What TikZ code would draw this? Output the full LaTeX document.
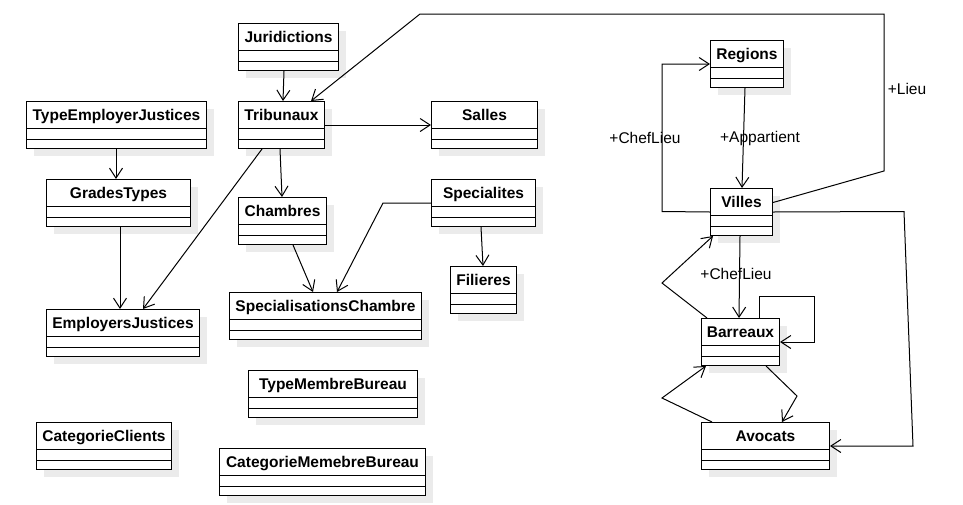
\documentclass[tikz,border=0pt]{standalone}
\usepackage{fontspec}
\setmainfont{Liberation Sans}
\usetikzlibrary{arrows.meta,shadows}

\begin{document}
\begin{tikzpicture}[x=1pt,y=-1pt,
      font=\fontsize{15.5}{18}\selectfont,
      umlclass/.style={draw,anchor=north west,fill=white,line width=1pt,
        minimum height=47pt,inner sep=0pt,text height=19pt,text depth=28pt,
        font=\fontsize{15.5}{18}\selectfont\bfseries,
        drop shadow={shadow xshift=7pt,shadow yshift=-7pt,fill=black!8,opacity=1},
        path picture={
          \draw[line width=1pt] ([yshift=-27pt]path picture bounding box.north west) -- ([yshift=-27pt]path picture bounding box.north east);
          \draw[line width=1pt] ([yshift=-38pt]path picture bounding box.north west) -- ([yshift=-38pt]path picture bounding box.north east);}},
      assoc/.style={line width=1pt,-{Straight Barb[length=10pt,width=13pt]}},
      role/.style={inner sep=0pt}]
    \useasboundingbox (0,0) rectangle (963,504);

    \node[umlclass,minimum width=100pt] (juridictions) at (238,23) {Juridictions};
    \node[umlclass,minimum width=180pt] (typeEmployer) at (26,101) {TypeEmployerJustices};
    \node[umlclass,minimum width=86pt] (tribunaux) at (238,101) {Tribunaux};
    \node[umlclass,minimum width=106pt] (salles) at (431,101) {Salles};
    \node[umlclass,minimum width=144pt] (gradesTypes) at (46,179) {GradesTypes};
    \node[umlclass,minimum width=88pt] (chambres) at (238,197) {Chambres};
    \node[umlclass,minimum width=104pt] (specialites) at (431,179) {Specialites};
    \node[umlclass,minimum width=66pt] (filieres) at (450,266) {Filieres};
    \node[umlclass,minimum width=153pt] (employers) at (46,309) {EmployersJustices};
    \node[umlclass,minimum width=192pt] (specChambre) at (229,292) {SpecialisationsChambre};
    \node[umlclass,minimum width=169pt] (typeMembre) at (248,370) {TypeMembreBureau};
    \node[umlclass,minimum width=135pt] (categorieClients) at (36,422) {CategorieClients};
    \node[umlclass,minimum width=206pt] (categorieMembre) at (219,448) {CategorieMemebreBureau};
    \node[umlclass,minimum width=73pt] (regions) at (710,40) {Regions};
    \node[umlclass,minimum width=62pt] (villes) at (710,188) {Villes};
    \node[umlclass,minimum width=78pt] (barreaux) at (701,318) {Barreaux};
    \node[umlclass,minimum width=128pt] (avocats) at (701,422) {Avocats};

    \draw[assoc] ([xshift=46pt]juridictions.south west) -- ([xshift=45pt]tribunaux.north west);
    \draw[assoc] ([yshift=9.5pt]villes.east) -- (884,171) -- (884,14) -- (420,14) -- ([xshift=73pt]tribunaux.north west);
    \draw[assoc] (tribunaux.east) -- (salles.west);
    \draw[assoc] ([xshift=90pt]typeEmployer.south west) -- ([xshift=70pt]gradesTypes.north west);
    \draw[assoc] ([xshift=42pt]tribunaux.south west) -- ([xshift=44pt]chambres.north west);
    \draw[assoc] ([xshift=24pt]tribunaux.south west) -- ([xshift=97pt]employers.north west);
    \draw[assoc] ([xshift=74pt]gradesTypes.south west) -- ([xshift=74pt]employers.north west);
    \draw[assoc] ([xshift=55pt]chambres.south west) -- ([xshift=84pt]specChambre.north west);
    \draw[assoc] (specialites.west) -- (383,203) -- ([xshift=108pt]specChambre.north west);
    \draw[assoc] ([xshift=50pt]specialites.south west) -- ([xshift=33pt]filieres.north west);
    \draw[assoc] ([xshift=35pt]regions.south west) -- ([xshift=32pt]villes.north west);
    \draw[assoc] (villes.west) -- (662,211.5) |- (regions.west);
    \draw[assoc] ([xshift=30pt]villes.south west) -- ([xshift=38pt]barreaux.north west);
    \draw[assoc] ([xshift=6pt]barreaux.north west) -- (662,283) -- ([xshift=3pt]villes.south west);
    \draw[assoc] ([xshift=58pt]barreaux.north west) |- (814,296) |- (barreaux.east);
    \draw[assoc] ([xshift=65pt]barreaux.south west) -- (797,396) -- ([xshift=81pt]avocats.north west);
    \draw[assoc] ([xshift=11pt]avocats.north west) -- (662,398) -- ([xshift=5pt]barreaux.south west);
    \draw[assoc] (villes.east) -- (904,211.5) -- (913,446) -- (avocats.east);

    \node[role] (lieu) at (907,89) {+Lieu};
    \node[role] (appartient) at (760,138) {+Appartient};
    \node[role] (chefLieuRegion) at (645,138) {+ChefLieu};
    \node[role] (chefLieuBarreau) at (736,274) {+ChefLieu};
  \end{tikzpicture}
\end{document}
